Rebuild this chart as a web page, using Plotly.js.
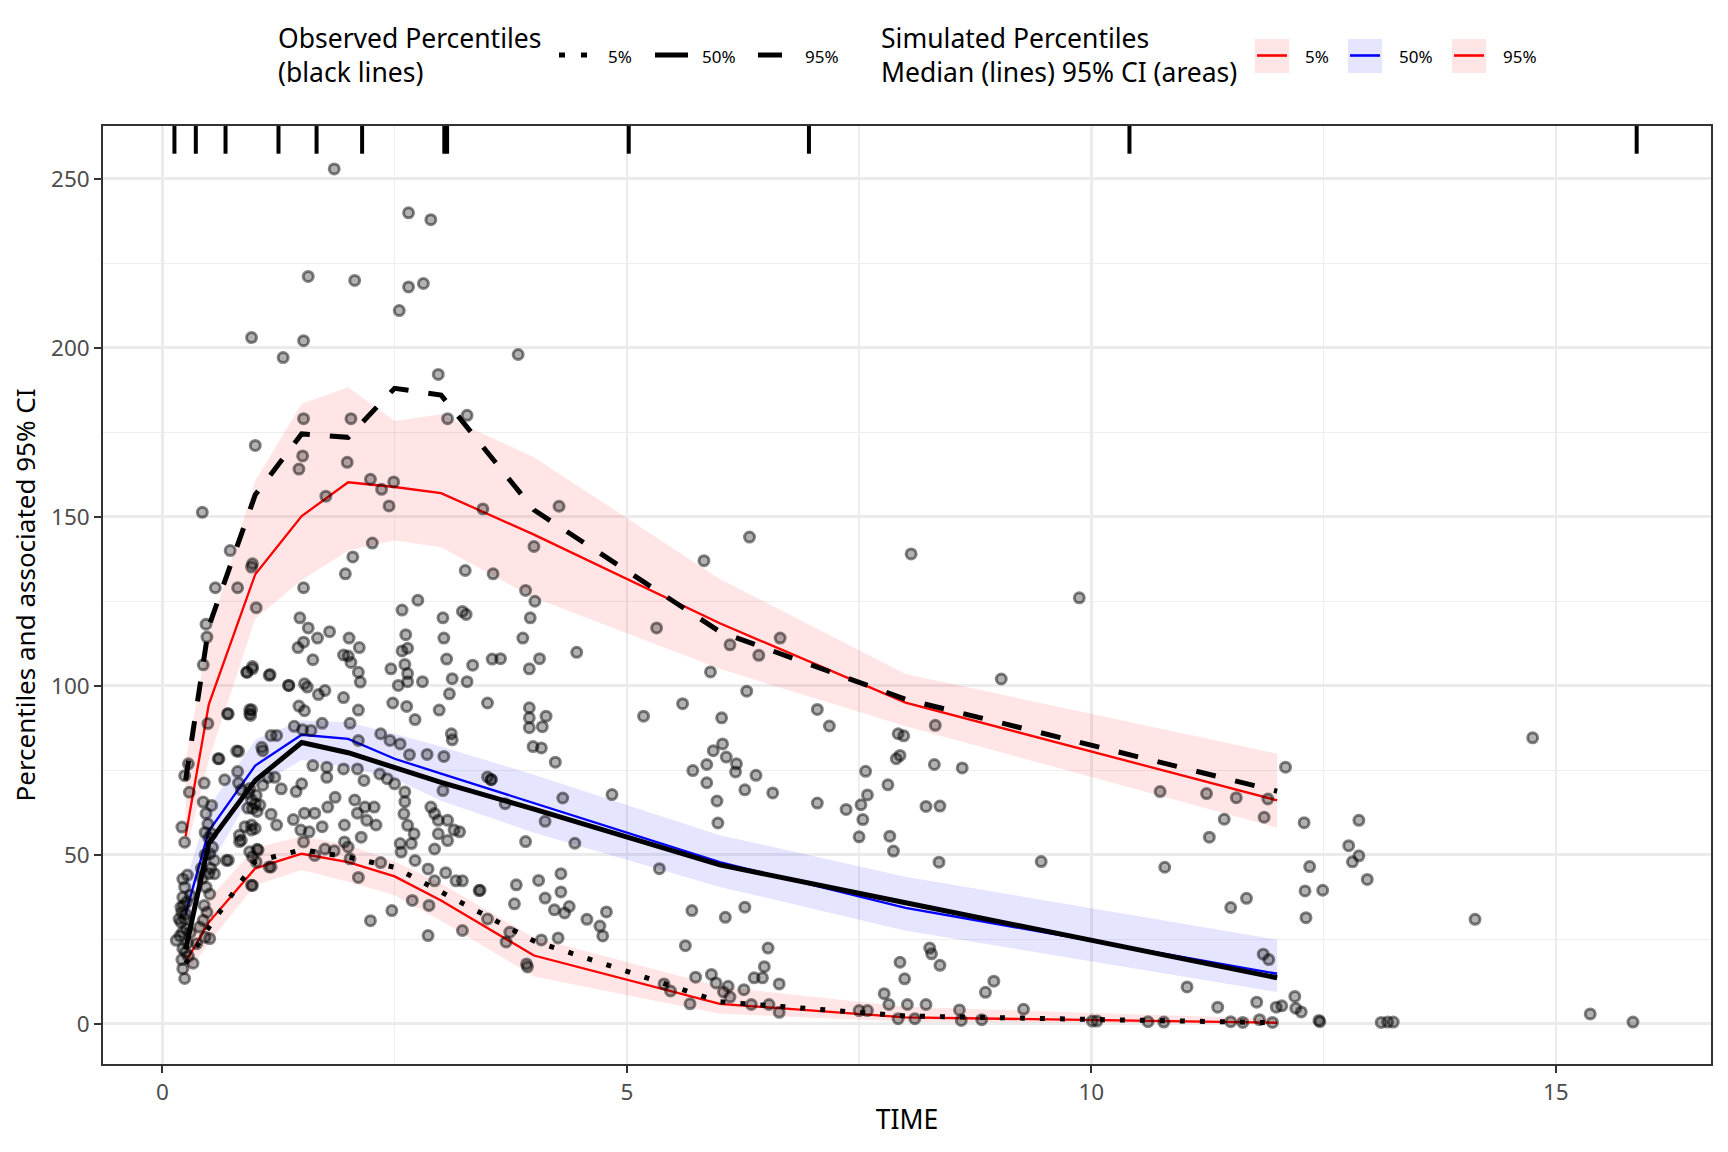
<!DOCTYPE html>
<html>
<head>
<meta charset="utf-8">
<script src="https://cdn.plot.ly/plotly-3.0.1.min.js"></script>
<style>html,body{margin:0;padding:0;background:#fff;}#chart{width:1728px;height:1152px;}</style>
</head>
<body>
<div id="chart"></div>
<script>
// ---------- DATA ----------
const nominalTimes = [0.25, 0.5, 1, 1.5, 2, 2.5, 3, 4, 6, 8, 12];

// Observed percentiles (black lines)
const obsP05 = [17.8, 28.5, 48.0, 51.5, 49.3, 46.3, 39.0, 24.5, 6.5, 2.3, 0.3];
const obsP50 = [22.0, 53.5, 72.0, 83.2, 80.2, 75.8, 71.4, 63.5, 47.0, 35.8, 13.6];
const obsP95 = [72.0, 117.5, 156.5, 174.5, 173.5, 188.0, 186.0, 152.0, 116.0, 96.0, 68.8];

// Simulated percentiles: median lines
const simP05 = [18.2, 30.0, 46.0, 50.3, 47.8, 43.6, 36.5, 20.2, 5.9, 1.9, 0.3];
const simP50 = [32.5, 57.0, 76.4, 85.5, 84.3, 78.4, 74.0, 65.3, 47.8, 34.3, 14.8];
const simP95 = [55.5, 94.5, 133.0, 150.2, 160.2, 158.8, 157.0, 144.7, 118.5, 95.0, 66.1];

// Simulated percentiles: 95% CI bounds
const simP05Lo = [14.0, 24.0, 41.0, 45.5, 42.0, 38.0, 30.5, 14.0, 3.0, 0.6, 0.0];
const simP05Hi = [23.0, 37.0, 52.0, 55.5, 53.0, 48.0, 41.5, 25.5, 11.0, 5.0, 1.5];
const simP50Lo = [27.0, 46.0, 70.0, 78.0, 75.9, 72.5, 66.0, 56.5, 40.5, 27.5, 9.4];
const simP50Hi = [42.0, 64.0, 84.0, 89.7, 89.2, 85.8, 82.0, 73.7, 55.8, 43.5, 24.9];
const simP95Lo = [50.4, 78.0, 119.8, 131.2, 140.0, 143.0, 141.0, 126.0, 105.0, 88.0, 58.0];
const simP95Hi = [78.0, 115.0, 160.7, 183.4, 188.3, 178.3, 180.3, 167.6, 131.6, 103.5, 79.9];

// Bin separators (rug marks at top)
const binSeparators = [0.13, 0.36, 0.68, 1.25, 1.66, 2.15, 3.035, 3.065, 5.02, 6.96, 10.41, 15.87];

// Observed data points
const obsTime = [
1.85,2.65,2.89,1.57,2.07,2.65,2.81,2.55,0.96,1.52,1.30,2.97,1.00,1.52,2.03,3.07,3.28,1.51,1.47,1.99,1.76,2.24,2.36,2.49,2.44,3.45,0.43,3.83,
2.26,2.05,1.97,1.52,3.26,3.56,0.73,0.97,0.96,0.81,0.57,1.01,0.47,0.48,0.44,0.49,0.97,0.91,1.15,0.71,0.94,0.95,1.36,1.53,1.56,1.47,1.53,1.48,1.57,1.67,1.80,1.52,1.46,1.62,2.01,2.12,1.95,2.00,2.03,2.11,2.13,1.95,2.11,1.68,1.75,2.58,2.75,2.62,2.58,2.64,2.61,2.46,2.64,2.64,2.54,2.80,2.48,2.63,2.72,3.02,3.03,3.23,3.27,3.34,3.28,3.06,3.12,3.09,2.98,3.50,3.55,3.11,3.12,3.02,3.54,
1.17,1.23,1.42,1.51,1.60,1.72,2.02,2.11,2.35,2.45,2.56,2.66,2.85,3.03,0.82,0.61,1.07,1.08,1.62,1.77,1.77,1.95,2.10,2.17,2.34,2.42,2.50,2.61,2.61,2.60,2.64,2.71,2.68,2.89,2.93,2.97,3.07,3.14,3.20,2.97,2.93,3.07,3.50,
0.67,0.81,0.82,0.85,0.93,0.96,1.00,0.92,1.02,1.08,1.14,1.21,1.28,1.17,1.23,0.96,0.96,0.85,0.83,0.71,0.97,1.02,1.50,1.44,1.53,1.64,1.41,1.49,1.58,1.52,1.72,1.86,1.78,1.96,1.96,2.00,2.07,2.10,2.18,2.20,2.28,2.30,2.14,1.75,1.85,2.02,1.64,1.15,0.96,2.11,2.35,2.56,2.57,2.72,2.86,2.93,3.05,3.16,3.23,3.41,3.50,2.69,2.87,3.23,2.86,2.47,2.24,
0.28,0.24,0.29,0.21,0.24,0.45,0.44,0.47,0.53,0.49,0.46,0.53,0.54,0.51,0.56,0.50,0.56,0.47,0.51,0.22,0.24,0.22,0.20,0.25,0.20,0.15,0.22,0.22,0.25,0.22,0.24,0.33,0.40,0.44,0.46,0.51,0.37,0.69,0.60,0.80,0.94,1.01,0.97,1.05,0.89,1.00,0.83,0.94,1.03,1.01,0.97,1.17,0.70,0.94,0.96,0.91,0.97,1.16,1.36,
0.23,0.26,0.19,0.27,0.21,0.28,0.24,0.30,0.27,0.18,0.30,0.26,0.21,0.45,0.48,0.42,0.52,0.46,0.50,0.43,
3.95,3.95,3.95,4.13,4.09,3.99,4.08,4.23,3.54,4.31,3.69,4.12,4.84,3.91,4.44,5.35,5.18,5.60,6.02,7.05,7.18,6.03,5.93,5.86,6.07,6.18,6.17,5.71,5.86,5.97,5.98,6.27,6.39,6.57,7.05,7.36,7.57,7.59,7.52,7.54,7.50,7.81,7.83,7.87,7.92,7.90,
3.42,3.81,3.79,4.05,4.12,4.29,4.29,4.22,4.33,4.38,4.57,4.78,4.71,4.74,3.74,3.70,4.08,4.26,3.92,3.93,5.70,6.06,6.27,5.63,6.52,6.48,6.46,6.37,6.64,6.26,5.74,5.91,5.96,6.09,6.04,6.11,5.47,5.40,5.68,6.34,6.53,6.64,7.77,7.82,7.50,7.59,7.92,
3.91,4.01,3.96,3.88,3.64,4.06,3.95,4.46,5.32,5.83,6.32,6.11,6.42,6.65,5.90,6.29,4.27,4.00,
9.87,9.03,8.32,7.98,7.94,8.31,8.61,8.22,8.37,8.36,9.46,12.09,10.74,11.24,11.56,11.90,11.86,11.43,11.27,12.29,12.88,12.77,12.88,12.81,12.97,12.35,12.30,12.49,12.31,10.79,11.67,11.50,14.75,14.13,11.85,11.91,11.03,12.19,11.78,12.05,11.99,11.36,12.20,12.26,
8.26,8.28,8.37,7.94,7.99,8.95,8.86,8.02,8.22,8.58,9.27,15.37,15.83,
8.10,8.60,8.82,10.01,10.06,10.61,10.78,11.50,11.63,11.81,11.95,12.45,12.46,13.12,13.19,13.25,8.06
];
const obsConc = [
252.9,239.9,237.9,221.1,219.9,218.0,219.0,211.0,203.0,202.1,197.1,192.1,171.1,179.0,179.0,179.0,180.0,168.0,164.1,166.1,156.1,161.1,158.1,160.3,153.2,152.3,151.3,198.0,
142.2,138.1,133.1,129.0,134.1,133.1,140.0,136.1,135.1,129.0,129.0,123.1,118.2,114.4,106.2,88.8,105.7,104.0,103.1,91.7,92.9,91.2,100.1,100.6,99.6,94.0,92.6,120.1,117.1,114.1,116.0,112.9,111.3,107.7,114.1,111.3,109.1,108.8,106.9,104.0,101.1,96.5,92.8,97.4,98.6,122.4,125.3,115.1,110.3,111.1,106.3,105.0,103.6,101.2,100.1,101.2,94.9,93.9,90.0,120.1,114.1,122.0,121.1,106.1,101.2,107.9,102.1,97.6,92.8,94.9,107.9,85.8,84.0,69.0,72.2,
85.3,85.3,88.0,87.0,86.8,88.9,88.9,83.8,85.8,83.8,82.8,79.6,79.7,79.1,80.6,78.4,81.8,80.8,76.4,75.9,72.9,75.4,75.4,72.0,73.9,72.5,71.0,68.6,65.7,62.1,58.7,56.2,53.3,64.1,62.2,60.2,60.2,57.3,56.8,56.2,51.7,54.2,73.0,
72.2,74.6,71.2,69.2,68.2,66.2,65.0,63.8,62.8,70.6,72.9,72.9,69.5,62.0,58.8,58.8,57.3,54.3,55.8,48.4,49.4,51.6,71.0,68.7,62.3,62.3,60.4,57.3,56.8,53.8,58.3,67.0,64.1,58.8,53.8,52.3,66.2,62.3,64.1,60.2,64.1,58.8,55.2,51.7,51.2,48.8,49.8,46.4,41.0,43.3,47.7,53.3,50.8,48.3,45.8,42.3,44.7,42.3,42.3,39.4,31.0,36.5,35.0,27.6,26.1,33.5,30.5,
76.9,73.4,68.5,58.2,53.7,71.2,65.6,62.2,64.6,59.1,56.6,56.2,52.2,50.3,48.3,44.4,44.4,40.4,38.4,42.8,40.4,37.4,34.5,32.5,30.1,24.7,27.1,22.2,21.2,16.3,13.4,17.9,28.6,30.6,25.6,25.2,23.7,48.3,78.4,80.7,69.6,67.6,63.7,64.7,58.3,57.8,53.9,50.9,51.4,47.9,40.9,46.4,91.7,91.7,92.9,104.0,105.0,103.3,100.1,
35.0,28.0,26.0,24.0,19.0,20.0,31.0,38.0,44.0,31.0,27.0,36.0,33.0,35.0,33.0,46.0,46.0,50.0,55.0,43.0,
93.5,90.5,87.6,91.0,87.9,82.0,81.6,77.4,72.3,66.8,65.1,59.9,67.8,53.9,53.4,45.9,91.0,94.7,90.5,93.0,88.1,82.8,80.8,76.7,78.9,76.9,74.5,74.9,71.3,65.9,59.4,69.2,73.5,68.3,65.3,63.4,74.7,67.7,64.8,60.4,55.3,70.7,55.5,51.1,85.8,78.4,
39.5,41.1,35.5,42.4,37.2,44.4,39.0,33.7,32.8,34.7,30.9,33.1,28.9,26.0,27.1,24.2,24.8,25.4,17.7,16.8,33.5,31.5,34.5,23.1,22.4,16.9,13.6,13.6,11.8,10.1,13.8,14.6,12.1,11.1,9.4,7.9,9.7,11.8,5.9,5.7,5.7,3.4,8.9,5.7,3.9,3.9,1.5,
128.2,125.0,120.1,114.1,108.0,108.0,105.0,109.9,117.1,137.0,144.0,112.1,109.0,114.1,104.1,98.4,153.1,141.2,
126.0,102.0,88.3,85.2,79.4,76.7,75.7,64.3,64.4,47.8,48.0,75.9,68.7,68.1,66.9,66.5,61.1,60.5,55.2,59.5,60.2,52.7,49.7,47.9,42.7,46.5,39.3,39.5,31.4,46.3,37.1,34.4,84.6,30.9,20.6,19.0,10.9,8.1,6.4,5.3,4.9,4.9,4.6,3.5,
22.4,20.7,17.3,18.2,13.3,12.6,9.3,5.7,5.7,4.1,4.3,2.9,0.5,
1.5,1.0,1.2,0.8,0.8,0.6,0.5,0.6,0.4,1.2,0.4,1.0,0.6,0.4,0.5,0.5,139.0
];

// ---------- LAYOUT CONSTANTS ----------
const W = 1728, H = 1152;
const M = {l: 103, r: 17, t: 126, b: 88};
const plotW = W - M.l - M.r, plotH = H - M.t - M.b;
const px2x = p => (p - M.l) / plotW;
const px2y = p => (H - M.b - p) / plotH;
const FONT = 'Noto Sans, Open Sans, DejaVu Sans, sans-serif';
const PINK = 'rgba(255,0,0,0.1)';
const LAV = 'rgba(0,0,255,0.1)';

function band(lo, hi, color) {
  return {
    x: nominalTimes.concat(nominalTimes.slice().reverse()),
    y: hi.concat(lo.slice().reverse()),
    type: 'scatter', mode: 'lines', fill: 'toself', fillcolor: color,
    line: {width: 0, color: 'rgba(0,0,0,0)'}, hoverinfo: 'skip', showlegend: false
  };
}
function simLine(y, color) {
  return {x: nominalTimes, y: y, type: 'scatter', mode: 'lines',
    line: {color: color, width: 2.3}, showlegend: false};
}
function obsLine(y, dash) {
  return {x: nominalTimes, y: y, type: 'scatter', mode: 'lines',
    line: {color: '#000000', width: 5, dash: dash}, showlegend: false};
}

const rugX = [], rugY = [];
binSeparators.forEach(v => { rugX.push(v, v, null); rugY.push(257.4, 266, null); });

const traces = [
  band(simP05Lo, simP05Hi, PINK),
  band(simP50Lo, simP50Hi, LAV),
  band(simP95Lo, simP95Hi, PINK),
  simLine(simP05, '#FF0000'),
  simLine(simP50, '#0000FF'),
  simLine(simP95, '#FF0000'),
  {x: obsTime, y: obsConc, type: 'scatter', mode: 'markers',
   marker: {symbol: 'circle', size: 10, color: 'rgba(0,0,0,0.3)',
            line: {color: 'rgba(0,0,0,0.48)', width: 3}}, showlegend: false},
  obsLine(obsP05, '5px,15px'),
  obsLine(obsP50, 'solid'),
  obsLine(obsP95, '20px,20px'),
  {x: rugX, y: rugY, type: 'scatter', mode: 'lines',
   line: {color: '#000000', width: 4}, showlegend: false}
];

// ---------- MANUAL LEGEND ----------
const shapes = [];
const annotations = [];
function txt(text, xpx, ypx, size, color) {
  annotations.push({text: text, x: px2x(xpx), y: px2y(ypx), xref: 'paper', yref: 'paper',
    xanchor: 'left', yanchor: 'middle', align: 'left', showarrow: false,
    font: {family: FONT, size: size, color: color || '#000000'}});
}
function keyLine(x0, x1, y, color, width, dash) {
  shapes.push({type: 'line', xref: 'paper', yref: 'paper',
    x0: px2x(x0), x1: px2x(x1), y0: px2y(y), y1: px2y(y),
    line: {color: color, width: width, dash: dash || 'solid'}});
}
function keyBox(x0, x1, y0, y1, fill) {
  shapes.push({type: 'rect', xref: 'paper', yref: 'paper',
    x0: px2x(x0), x1: px2x(x1), y0: px2y(y1), y1: px2y(y0),
    fillcolor: fill, line: {width: 0}});
}
const legTitleSize = 26.5, legLabelSize = 17;
txt('Observed Percentiles<br>(black lines)', 276, 55.5, legTitleSize);
keyLine(559, 593, 55, '#000', 5, '6px,16px');
txt('5%', 606, 56, legLabelSize);
keyLine(655, 688, 55, '#000', 5, 'solid');
txt('50%', 700, 56, legLabelSize);
keyLine(758, 792, 55, '#000', 5, '24px,24px');
txt('95%', 803, 56, legLabelSize);

txt('Simulated Percentiles<br>Median (lines) 95% CI (areas)', 879, 55.5, legTitleSize);
keyBox(1255, 1289, 39, 73, PINK);
keyLine(1257, 1287, 55.5, '#FF0000', 2.6);
txt('5%', 1303, 56, legLabelSize);
keyBox(1348, 1382, 39, 73, LAV);
keyLine(1350, 1380, 55.5, '#0000FF', 2.6);
txt('50%', 1397, 56, legLabelSize);
keyBox(1452, 1486, 39, 73, PINK);
keyLine(1454, 1484, 55.5, '#FF0000', 2.6);
txt('95%', 1501, 56, legLabelSize);

const axisCommon = {
  showline: true, mirror: true, linecolor: '#333333', linewidth: 1.8,
  ticks: 'outside', ticklen: 7, tickwidth: 1.8, tickcolor: '#333333',
  tickfont: {family: FONT, size: 22.5, color: '#4D4D4D'},
  showgrid: true, gridcolor: '#EBEBEB', gridwidth: 2.6, zeroline: false
};

const layout = {
  width: W, height: H,
  margin: M,
  paper_bgcolor: '#FFFFFF', plot_bgcolor: '#FFFFFF',
  showlegend: false,
  font: {family: FONT},
  xaxis: Object.assign({}, axisCommon, {
    range: [-0.639, 16.67], tickmode: 'linear', tick0: 0, dtick: 5,
    minor: {dtick: 2.5, tick0: 0, showgrid: true, gridcolor: '#EEEEEE', gridwidth: 1.4, ticks: ''},
    title: {text: 'TIME', font: {family: FONT, size: 26.5, color: '#000000'}, standoff: 5}
  }),
  yaxis: Object.assign({}, axisCommon, {
    range: [-11.9, 265.6], tickmode: 'linear', tick0: 0, dtick: 50,
    minor: {dtick: 25, tick0: 0, showgrid: true, gridcolor: '#EEEEEE', gridwidth: 1.4, ticks: ''},
    title: {text: 'Percentiles and associated 95% CI', font: {family: FONT, size: 26, color: '#000000'}, standoff: 8}
  }),
  shapes: shapes,
  annotations: annotations
};

Plotly.newPlot('chart', traces, layout, {displayModeBar: false, staticPlot: true});
</script>
</body>
</html>
